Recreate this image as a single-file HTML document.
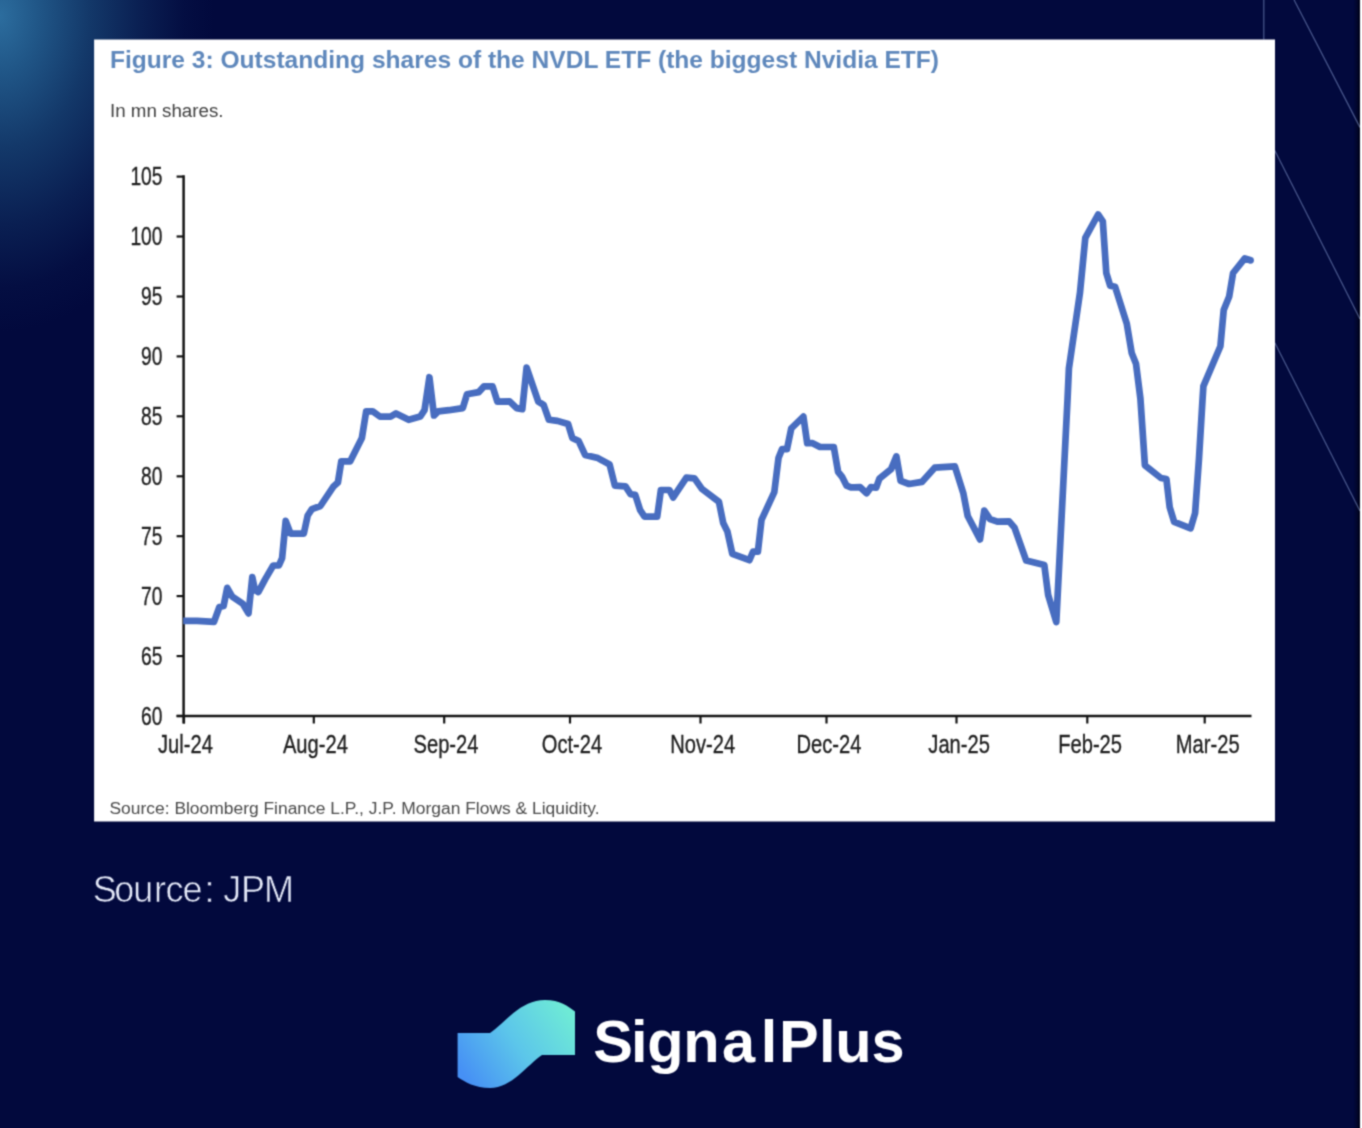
<!DOCTYPE html>
<html lang="en">
<head>
<meta charset="utf-8">
<title>Figure 3: Outstanding shares of the NVDL ETF</title>
<style>
  html, body { margin:0; padding:0; }
  body {
    width:1362px; height:1128px; overflow:hidden; position:relative;
    background-color:#02093d;
    background-image: radial-gradient(ellipse 214px 316px at 0px 16px, #2c6d9e 0%, #205687 18%, #133869 42%, #0a1f52 66%, #040e42 86%, #02093d 100%);
    font-family:"Liberation Sans", sans-serif;
  }
  svg { position:absolute; left:0; top:0; display:block; }
  text { font-family:"Liberation Sans", sans-serif; }
</style>
</head>
<body>
<svg width="1362" height="1128" viewBox="0 0 1362 1128">
  <defs>
    <filter id="soft" x="0" y="0" width="1362" height="1128" filterUnits="userSpaceOnUse" color-interpolation-filters="sRGB">
      <feConvolveMatrix order="3" kernelMatrix="1 3 1 3 9 3 1 3 1" divisor="25" edgeMode="duplicate" preserveAlpha="false"/>
    </filter>
    <linearGradient id="edge" x1="0" y1="0" x2="1" y2="0">
      <stop offset="0" stop-color="#01031c" stop-opacity="0"/>
      <stop offset="0.55" stop-color="#01031c" stop-opacity="0.55"/>
      <stop offset="1" stop-color="#00010f" stop-opacity="0.9"/>
    </linearGradient>
    <linearGradient id="lg" x1="0" y1="0.75" x2="1" y2="0.25">
      <stop offset="0" stop-color="#4690f5"/>
      <stop offset="0.5" stop-color="#5cc6ea"/>
      <stop offset="1" stop-color="#6eead6"/>
    </linearGradient>
  </defs>
  <g filter="url(#soft)">

  <!-- right edge artefact: dark strip -->
  <rect x="1353.5" y="0" width="6.5" height="1128" fill="url(#edge)"/>

  <!-- faint decorative lines on the right -->
  <g stroke="#93a9e0" stroke-opacity="0.5" stroke-width="1.2" fill="none">
    <line x1="1263.8" y1="0" x2="1263.8" y2="39.5"/>
    <line x1="1294.1" y1="0" x2="1360" y2="127.4"/>
    <line x1="1274.8" y1="150.5" x2="1360" y2="318.9"/>
    <line x1="1274.8" y1="342.7" x2="1360" y2="511"/>
  </g>

  <!-- right edge artefact: 2px white column -->
  <rect x="1360" y="0" width="2" height="1128" fill="#ffffff"/>

  <!-- white chart panel -->
  <rect x="94.1" y="39.5" width="1180.9" height="782" fill="#ffffff"/>

  <!-- title -->
  <text x="110" y="68.4" font-size="23.4" font-weight="bold" fill="#5f88bc" textLength="829" lengthAdjust="spacingAndGlyphs">Figure 3: Outstanding shares of the NVDL ETF (the biggest Nvidia ETF)</text>
  <text x="110" y="117.2" font-size="17.6" fill="#404040" textLength="113.5" lengthAdjust="spacingAndGlyphs">In mn shares.</text>

  <!-- axes -->
  <g stroke="#141414" stroke-width="2.5" fill="none" stroke-linecap="butt">
    <line x1="183.6" y1="175.3" x2="183.6" y2="723.5"/>
    <line x1="176.6" y1="716.0" x2="1251.5" y2="716.0"/>
    <line stroke-width="2.2" x1="176.6" y1="176.6" x2="183.6" y2="176.6"/>
<line stroke-width="2.2" x1="176.6" y1="236.5" x2="183.6" y2="236.5"/>
<line stroke-width="2.2" x1="176.6" y1="296.5" x2="183.6" y2="296.5"/>
<line stroke-width="2.2" x1="176.6" y1="356.4" x2="183.6" y2="356.4"/>
<line stroke-width="2.2" x1="176.6" y1="416.3" x2="183.6" y2="416.3"/>
<line stroke-width="2.2" x1="176.6" y1="476.3" x2="183.6" y2="476.3"/>
<line stroke-width="2.2" x1="176.6" y1="536.2" x2="183.6" y2="536.2"/>
<line stroke-width="2.2" x1="176.6" y1="596.1" x2="183.6" y2="596.1"/>
<line stroke-width="2.2" x1="176.6" y1="656.1" x2="183.6" y2="656.1"/>
<line stroke-width="2.2" x1="176.6" y1="716.0" x2="183.6" y2="716.0"/>
    <line stroke-width="2.2" x1="184.0" y1="716.0" x2="184.0" y2="723.5"/>
<line stroke-width="2.2" x1="313.8" y1="716.0" x2="313.8" y2="723.5"/>
<line stroke-width="2.2" x1="444.2" y1="716.0" x2="444.2" y2="723.5"/>
<line stroke-width="2.2" x1="570.0" y1="716.0" x2="570.0" y2="723.5"/>
<line stroke-width="2.2" x1="700.5" y1="716.0" x2="700.5" y2="723.5"/>
<line stroke-width="2.2" x1="826.5" y1="716.0" x2="826.5" y2="723.5"/>
<line stroke-width="2.2" x1="956.5" y1="716.0" x2="956.5" y2="723.5"/>
<line stroke-width="2.2" x1="1087.3" y1="716.0" x2="1087.3" y2="723.5"/>
<line stroke-width="2.2" x1="1204.7" y1="716.0" x2="1204.7" y2="723.5"/>
  </g>

  <!-- axis labels -->
  <g font-size="26" fill="#1e1e1e" stroke="#1e1e1e" stroke-width="0.35">
    <text transform="translate(162.5,185.2) scale(0.74,1)" text-anchor="end">105</text>
<text transform="translate(162.5,245.1) scale(0.74,1)" text-anchor="end">100</text>
<text transform="translate(162.5,305.1) scale(0.74,1)" text-anchor="end">95</text>
<text transform="translate(162.5,365.0) scale(0.74,1)" text-anchor="end">90</text>
<text transform="translate(162.5,424.9) scale(0.74,1)" text-anchor="end">85</text>
<text transform="translate(162.5,484.9) scale(0.74,1)" text-anchor="end">80</text>
<text transform="translate(162.5,544.8) scale(0.74,1)" text-anchor="end">75</text>
<text transform="translate(162.5,604.7) scale(0.74,1)" text-anchor="end">70</text>
<text transform="translate(162.5,664.7) scale(0.74,1)" text-anchor="end">65</text>
<text transform="translate(162.5,724.6) scale(0.74,1)" text-anchor="end">60</text>
    <text transform="translate(185.4,753.2) scale(0.775,1)" text-anchor="middle">Jul-24</text>
<text transform="translate(315.4,753.2) scale(0.775,1)" text-anchor="middle">Aug-24</text>
<text transform="translate(446.0,753.2) scale(0.775,1)" text-anchor="middle">Sep-24</text>
<text transform="translate(572.0,753.2) scale(0.775,1)" text-anchor="middle">Oct-24</text>
<text transform="translate(702.7,753.2) scale(0.775,1)" text-anchor="middle">Nov-24</text>
<text transform="translate(828.9,753.2) scale(0.775,1)" text-anchor="middle">Dec-24</text>
<text transform="translate(959.1,753.2) scale(0.775,1)" text-anchor="middle">Jan-25</text>
<text transform="translate(1090.1,753.2) scale(0.775,1)" text-anchor="middle">Feb-25</text>
<text transform="translate(1207.7,753.2) scale(0.775,1)" text-anchor="middle">Mar-25</text>
  </g>

  <!-- data line -->
  <polyline fill="none" stroke="#486dc0" stroke-width="6.7" stroke-linejoin="round" stroke-linecap="butt" points="183.2,620.9 197,620.9 214,621.9 219.4,607 223.6,606 227.2,587.9 232.1,596.4 242.8,603.8 248.5,613.4 252.3,577.2 254.9,590 258.3,592.1 265.1,579.4 273.2,565.5 278.9,565.5 282.1,558.1 285.7,520.9 290.6,533.6 303.8,533.6 307.7,515.5 311.9,509.1 320.4,506 333.2,486.8 337.9,482.6 341.3,461.3 350.2,461.3 361.9,437.9 366.2,411.3 372.6,411.3 380,416.6 390.6,416.6 396,413.4 408.7,419.8 420.2,416.6 424.5,410.2 429.4,377.2 434,415.5 438.3,411.3 448.9,410.2 462.8,408.1 467,394.3 478.7,392.1 484,386.4 492.6,386.4 497.4,401.7 509.6,401.3 516.6,408.1 522.3,409.1 526.6,367.7 538.3,401.7 543.6,404.9 548.9,419.8 557.4,420.9 568.1,424 572.3,437.9 578.7,441.1 585.1,454.9 597.9,458.1 609.6,464.5 614.9,485.7 625.5,486.4 630.6,494.3 635.3,494.9 640.2,510.2 644.5,516.6 657.2,516.6 660.9,490 669.4,490 673.2,497.4 686.4,477.7 694.5,478.3 701.9,488.9 718.9,501.7 723.2,523 727.4,531.5 732.3,553.8 749.4,560.2 753,551.7 757.9,551.7 761.5,519.8 774.3,492.1 778.5,458.1 782.1,449.1 787,449.1 791.3,428.3 803.4,416.6 807.2,443.2 812.6,443.2 820,447 833.8,447 838.1,471.9 842.3,477.2 846.6,485.7 850.9,487.4 860.2,487.2 866.6,493.2 870.9,487.2 876.2,487.7 879.4,478.7 891.1,469.1 896.4,456.4 900.6,480.9 909.1,484 921.9,481.9 934.7,467.7 954.9,466.4 963.4,493.6 967.7,516 980,539.4 984.3,510.6 990,519.1 997.4,521.7 1009.1,521.3 1014.5,527.7 1026.2,560.6 1044.3,564.9 1048.1,594.7 1056.3,622 1067.5,400 1068.9,368.6 1080,292.5 1085.3,237.9 1098.1,214.5 1102.8,221.3 1106.3,273 1110.2,285.7 1115.1,286.7 1126.8,323.7 1131.7,353 1136,363.7 1140.4,398.5 1144.9,465.3 1160.9,478 1166.4,479 1169.7,507.3 1174.2,521.9 1190.6,528.3 1195.1,513.1 1199,458.5 1202.5,400 1203.4,386.1 1220.4,346.2 1223.7,310.1 1229.2,296.4 1233.1,273 1244.8,258.4 1250.6,260.3"/>
  <circle cx="1250.6" cy="260.3" r="3.35" fill="#486dc0"/>

  <!-- chart source -->
  <text x="109.5" y="814.1" font-size="15.6" fill="#4a4a4a" textLength="490" lengthAdjust="spacingAndGlyphs">Source: Bloomberg Finance L.P., J.P. Morgan Flows &amp; Liquidity.</text>

  <!-- caption -->
  <text x="92.8 114.2 133.2 154 165.4 182.4 204.4 213.8 223.2 240.9 263.9" y="901.5" font-size="36" fill="#e4e9f8" stroke="#02093d" stroke-width="0.6">Source: JPM</text>

  <!-- logo -->
  <path fill="url(#lg)" d="M457.6,1033 L490,1033 C505,1023 520,1000 545,1000 C560,1000 568,1006 575,1011.5 L575,1055 L542,1055 C527,1065 512,1088 490,1088 C475,1088 465,1082 457.6,1077 Z"/>
  <text x="593.3 631 647.2 683.3 722 760.8 778.9 819 835.2 871.4" y="1061.8" font-size="59.5" font-weight="bold" fill="#ffffff">SignalPlus</text>
  </g>
</svg>
</body>
</html>
